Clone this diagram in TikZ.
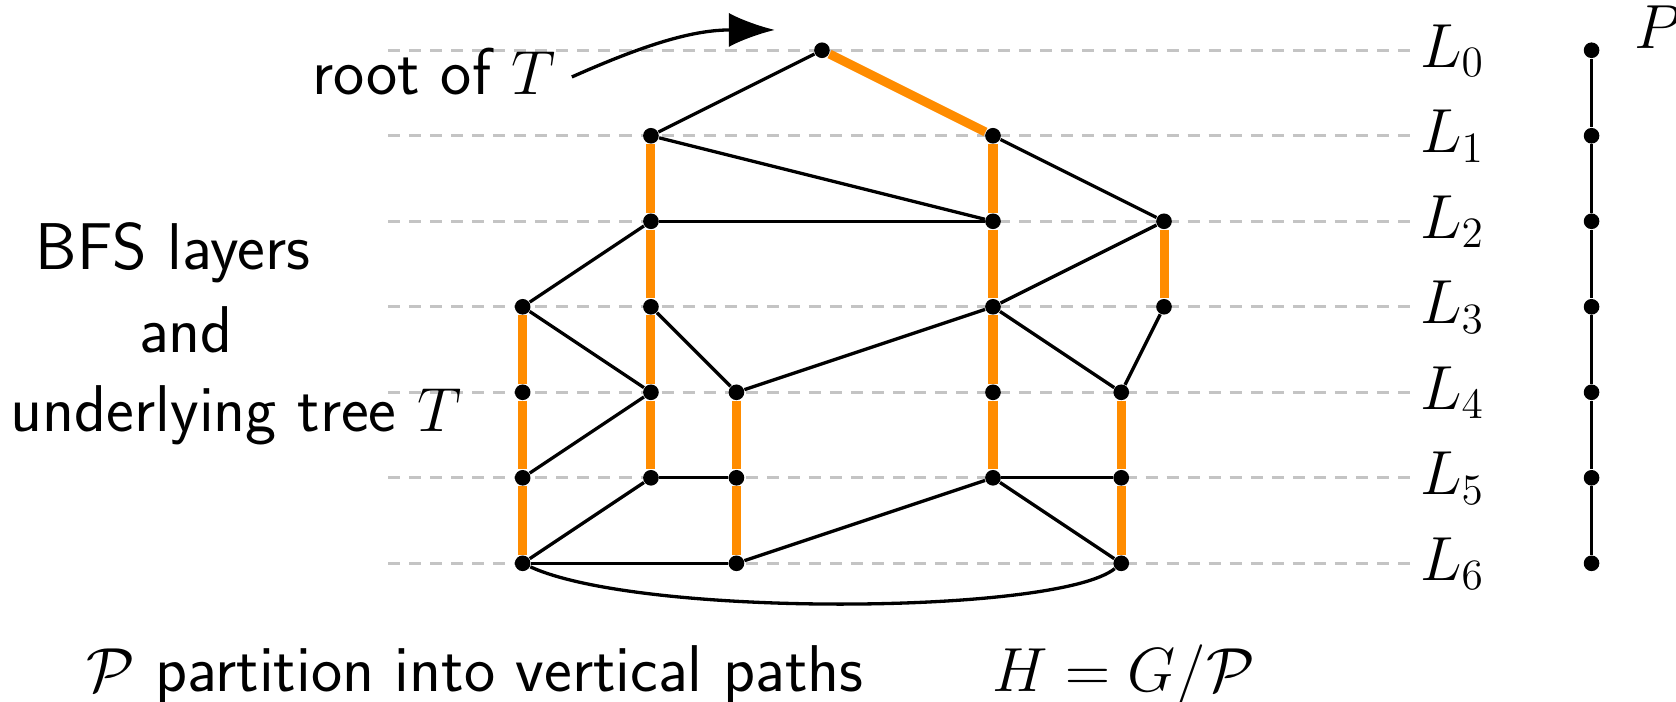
\documentclass[tikz,border=0pt]{standalone}
\usetikzlibrary{arrows.meta}
\definecolor{porange}{RGB}{255,140,0}
\definecolor{guide}{RGB}{196,196,196}
\begin{document}
\begin{tikzpicture}[x=0.0125cm,y=-0.0125cm,
  txt/.style={font=\fontsize{22}{26}\selectfont\sffamily, inner sep=0pt},
  laylab/.style={font=\fontsize{20.5}{24}\selectfont, inner sep=0pt},
  guideline/.style={draw=guide, line width=1.1pt, dash pattern=on 4pt off 3pt},
  tpath/.style={draw=porange, line width=3pt},
  gedge/.style={draw=black, line width=1.1pt},
  vtx/.style={circle, fill=black, inner sep=0pt, minimum size=5.2pt}
]
\useasboundingbox (0,0) rectangle (1568,656);

% layer guide lines and labels
\foreach \k in {0,...,6}{
  \pgfmathsetmacro{\yy}{47+80*\k}
  \coordinate (gs\k) at (363,\yy);
  \coordinate (ge\k) at (1319,\yy);
  \draw[guideline] (gs\k) -- (ge\k);
  \node[laylab, anchor=base west] (L\k) at (1328,\yy+16) {$L_{\k}$};
}

% vertices
\node[vtx] (r)  at (769,47) {};
\node[vtx] (a1) at (609,127) {};
\node[vtx] (b1) at (929,127) {};
\node[vtx] (a2) at (609,207) {};
\node[vtx] (b2) at (929,207) {};
\node[vtx] (c2) at (1089,207) {};
\node[vtx] (d3) at (489,287) {};
\node[vtx] (a3) at (609,287) {};
\node[vtx] (b3) at (929,287) {};
\node[vtx] (c3) at (1089,287) {};
\node[vtx] (d4) at (489,367) {};
\node[vtx] (a4) at (609,367) {};
\node[vtx] (e4) at (689,367) {};
\node[vtx] (b4) at (929,367) {};
\node[vtx] (f4) at (1049,367) {};
\node[vtx] (d5) at (489,447) {};
\node[vtx] (a5) at (609,447) {};
\node[vtx] (e5) at (689,447) {};
\node[vtx] (b5) at (929,447) {};
\node[vtx] (f5) at (1049,447) {};
\node[vtx] (d6) at (489,527) {};
\node[vtx] (e6) at (689,527) {};
\node[vtx] (f6) at (1049,527) {};

% tree paths (orange)
\draw[tpath] (r) -- (b1);
\draw[tpath] (a1) -- (a2) -- (a3) -- (a4) -- (a5);
\draw[tpath] (b1) -- (b2) -- (b3) -- (b4) -- (b5);
\draw[tpath] (c2) -- (c3);
\draw[tpath] (d3) -- (d4) -- (d5) -- (d6);
\draw[tpath] (e4) -- (e5) -- (e6);
\draw[tpath] (f4) -- (f5) -- (f6);

% other edges
\draw[gedge] (r) -- (a1);
\draw[gedge] (a1) -- (b2);
\draw[gedge] (b1) -- (c2);
\draw[gedge] (a2) -- (b2);
\draw[gedge] (a2) -- (d3);
\draw[gedge] (c2) -- (b3);
\draw[gedge] (d3) -- (a4);
\draw[gedge] (a3) -- (e4);
\draw[gedge] (e4) -- (b3);
\draw[gedge] (b3) -- (f4);
\draw[gedge] (c3) -- (f4);
\draw[gedge] (d5) -- (a4);
\draw[gedge] (a5) -- (e5);
\draw[gedge] (d6) -- (a5);
\draw[gedge] (d6) -- (e6);
\draw[gedge] (e6) -- (b5);
\draw[gedge] (b5) -- (f5);
\draw[gedge] (b5) -- (f6);
\draw[gedge] (d6) .. controls (600,578) and (990,575) .. (f6);

% quotient path P
\foreach \k in {0,...,6}{
  \node[vtx] (p\k) at (1489,47+80*\k) {};
}
\draw[gedge] (p0) -- (p1) -- (p2) -- (p3) -- (p4) -- (p5) -- (p6);
\node[laylab, anchor=base west] (Plab) at (1529,45) {$P$};

% root annotation
\node[txt, anchor=base west] (rootlab) at (292,88) {root of $T$};
\coordinate (arrS) at (535,72);
\coordinate (arrT) at (725,28);
\draw[gedge, -{Latex[length=5.4mm,width=4mm]}] (arrS) to[out=24,in=180] (arrT);

% left labels
\node[txt, anchor=base] (bfs) at (162,252) {BFS layers};
\node[txt, anchor=base] (andl) at (174,330) {and};
\node[txt, anchor=base] (undl) at (221,404) {underlying tree $T$};

% bottom labels
\node[txt, anchor=base west] (partl) at (80,647) {$\mathcal{P}$ partition into vertical paths};
\node[txt, anchor=base west] (quot) at (928,647) {$H=G/\mathcal{P}$};
\end{tikzpicture}
\end{document}
